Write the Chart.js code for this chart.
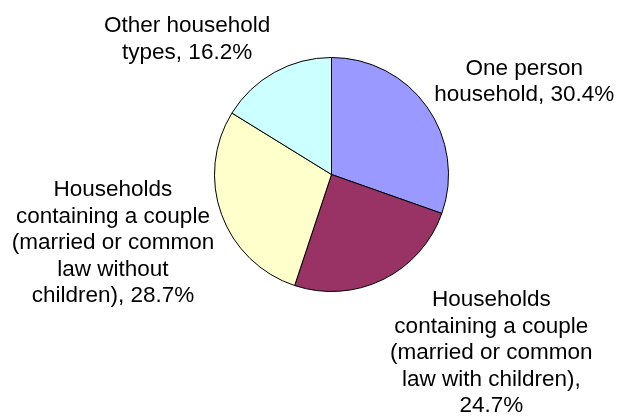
<!DOCTYPE html>
<html>
<head>
<meta charset="utf-8">
<script src="https://cdn.jsdelivr.net/npm/chart.js@4.4.1/dist/chart.umd.min.js"></script>
<style>
  html, body { margin: 0; padding: 0; background: #ffffff; }
  canvas { display: block; }
</style>
</head>
<body>
<canvas id="c" width="618" height="417"></canvas>
<script>
const categories = [
  'One person household',
  'Households containing a couple (married or common law with children)',
  'Households containing a couple (married or common law without children)',
  'Other household types'
];
const shares = [30.4, 24.7, 28.7, 16.2];
const sliceColors = ['#9999FF', '#993366', '#FFFFCC', '#CCFFFF'];

// label placement (in units of the pie radius) and wrap widths
const labelStyle = {
  font: '22.5px "Liberation Sans", Arial, sans-serif',
  lineHeight: 26.5,
  anchors: [
    { dx: 1.647, dy: -0.851, wrap: 205 },
    { dx: 1.366, dy: 1.128, wrap: 214 },
    { dx: -1.868, dy: 0.186, wrap: 205 },
    { dx: -1.234, dy: -1.217, wrap: 195 }
  ]
};

function wrapText(ctx, text, maxW) {
  const words = text.split(' ');
  const lines = [];
  let cur = '';
  for (const w of words) {
    const test = cur ? cur + ' ' + w : w;
    if (cur && ctx.measureText(test).width > maxW) {
      lines.push(cur);
      cur = w;
    } else {
      cur = test;
    }
  }
  if (cur) lines.push(cur);
  return lines;
}

const outsideLabels = {
  id: 'outsideLabels',
  afterDatasetsDraw(chart) {
    const ctx = chart.ctx;
    const meta = chart.getDatasetMeta(0);
    ctx.save();
    ctx.font = labelStyle.font;
    ctx.fillStyle = '#000000';
    ctx.textAlign = 'center';
    ctx.textBaseline = 'alphabetic';
    meta.data.forEach((arc, i) => {
      const a = labelStyle.anchors[i];
      const r = arc.outerRadius;
      const text = categories[i] + ', ' + shares[i].toFixed(1) + '%';
      const lines = wrapText(ctx, text, a.wrap);
      const x = arc.x + a.dx * r;
      const y0 = arc.y + a.dy * r;
      lines.forEach((ln, k) => ctx.fillText(ln, x, y0 + k * labelStyle.lineHeight));
    });
    ctx.restore();
  }
};

new Chart(document.getElementById('c'), {
  type: 'pie',
  data: {
    labels: categories,
    datasets: [{
      data: shares,
      backgroundColor: sliceColors,
      borderColor: '#000000',
      borderWidth: 1
    }]
  },
  options: {
    responsive: false,
    animation: false,
    layout: { padding: { left: 214, right: 169, top: 57, bottom: 125 } },
    plugins: {
      legend: { display: false },
      tooltip: { enabled: false }
    }
  },
  plugins: [outsideLabels]
});
</script>
</body>
</html>
